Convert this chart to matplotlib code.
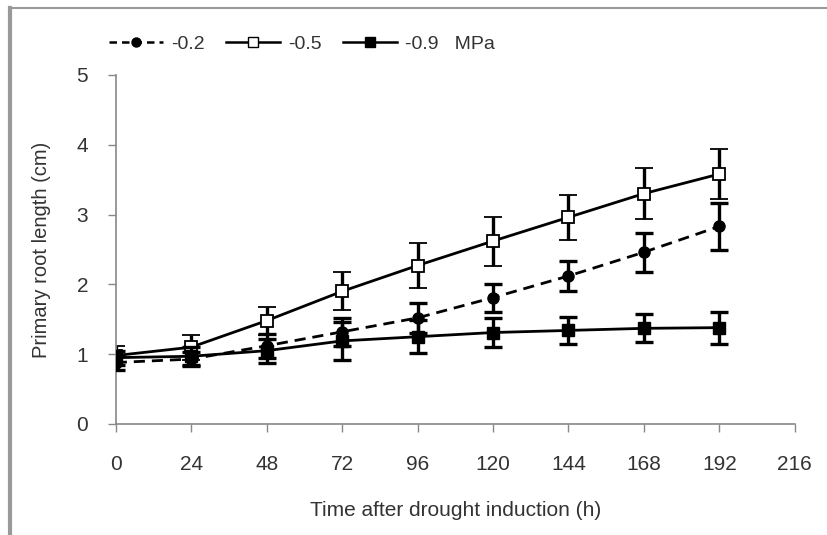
import matplotlib.pyplot as plt
from matplotlib.lines import Line2D

plt.rcParams['font.family'] = ['Liberation Sans', 'DejaVu Sans']

hours = [0, 24, 48, 72, 96, 120, 144, 168, 192]

# -0.2 MPa (dashed, filled circle)
mpa02 = [0.88, 0.93, 1.12, 1.32, 1.52, 1.81, 2.12, 2.46, 2.83]
mpa02_err = [0.10, 0.10, 0.17, 0.20, 0.21, 0.20, 0.21, 0.28, 0.34]
# -0.5 MPa (solid, open square)
mpa05 = [0.98, 1.10, 1.48, 1.90, 2.27, 2.62, 2.96, 3.30, 3.58]
mpa05_err = [0.13, 0.18, 0.20, 0.27, 0.32, 0.35, 0.32, 0.36, 0.36]
# -0.9 MPa (solid, filled square)
mpa09 = [0.95, 0.97, 1.05, 1.19, 1.25, 1.31, 1.34, 1.37, 1.38]
mpa09_err = [0.10, 0.13, 0.17, 0.27, 0.24, 0.21, 0.19, 0.20, 0.23]

xticks = [0, 24, 48, 72, 96, 120, 144, 168, 192, 216]
yticks = [0, 1, 2, 3, 4, 5]

fig = plt.figure(figsize=(8.27, 5.35), dpi=100)
ax = fig.add_axes([0.140, 0.2075, 0.821, 0.6525])

err_kw = dict(ecolor='black', elinewidth=2.4, capsize=6.5, capthick=2.4)

ax.errorbar(hours, mpa05, yerr=mpa05_err, color='black', lw=2, ls='-',
            marker='s', ms=9, mfc='white', mec='black', mew=1.3, zorder=2, **err_kw)
ax.errorbar(hours, mpa02, yerr=mpa02_err, color='black', lw=2, ls=(0, (4, 2.5)),
            marker='o', ms=8, mfc='black', mec='black', zorder=3, **err_kw)
ax.errorbar(hours, mpa09, yerr=mpa09_err, color='black', lw=2, ls='-',
            marker='s', ms=9, mfc='black', mec='black', zorder=4, **err_kw)

ax.set_xlim(0, 216)
ax.set_ylim(0, 5)
ax.set_xticks(xticks)
ax.set_yticks(yticks)
ax.tick_params(axis='both', direction='out', length=6, width=1, color='#888888',
               labelsize=15, labelcolor='#333333')
ax.tick_params(axis='x', pad=16)
ax.tick_params(axis='y', pad=14)
for side in ['top', 'right']:
    ax.spines[side].set_visible(False)
for side in ['left', 'bottom']:
    ax.spines[side].set_color('#888888')
    ax.spines[side].set_linewidth(1.2)

ax.set_xlabel('Time after drought induction (h)', fontsize=15, color='#333333', labelpad=20)
ax.set_ylabel('Primary root length (cm)', fontsize=14.5, color='#333333', labelpad=18)

handles = [
    Line2D([], [], color='black', lw=1.8, ls=(0, (3, 2)), marker='o', ms=6.5, mfc='black'),
    Line2D([], [], color='black', lw=1.8, ls='-', marker='s', ms=7.5, mfc='white', mec='black'),
    Line2D([], [], color='black', lw=1.8, ls='-', marker='s', ms=7.5, mfc='black'),
]
labels = ['-0.2', '-0.5', '-0.9   MPa']
fig.legend(handles, labels, loc='center', bbox_to_anchor=(0.365, 0.918), ncol=3,
           frameon=False, fontsize=14, handlelength=2.8, handletextpad=0.4,
           columnspacing=1.1, labelcolor='#333333')

# frame lines of the cropped figure
fig.add_artist(Line2D([0.012, 0.012], [0, 0.985], color='#999999', lw=3,
                      transform=fig.transFigure))
fig.add_artist(Line2D([0.012, 1.0], [0.985, 0.985], color='#999999', lw=1.5,
                      transform=fig.transFigure))

fig.savefig('out.png', dpi=100)
